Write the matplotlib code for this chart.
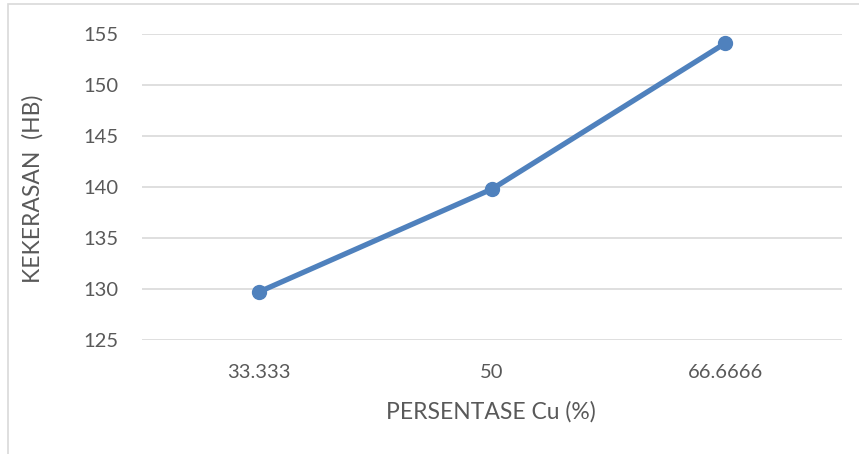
import matplotlib
matplotlib.use("Agg")
import matplotlib.pyplot as plt
from matplotlib.patches import Rectangle

categories = ["33.333", "50", "66.6666"]
hardness = [129.7, 139.8, 154.1]
y_ticks = [125, 130, 135, 140, 145, 150, 155]

LINE_BLUE = "#4F81BD"
GRID = "#D9D9D9"
TEXT = "#595959"

plt.rcParams["font.family"] = ["Lato", "DejaVu Sans"]

fig = plt.figure(figsize=(8.59, 4.54), dpi=100)
fig.patches.append(Rectangle((8 / 859, -0.1), 1.2, 1 - 4 / 454 + 0.1,
                             transform=fig.transFigure, fill=False,
                             edgecolor=GRID, linewidth=1.2))

ax = fig.add_axes([142 / 859, 1 - 340 / 454, 700 / 859, 306 / 454])
x = list(range(len(categories)))
ax.plot(x, hardness, color=LINE_BLUE, linewidth=3.8, marker="o",
        markersize=10, solid_capstyle="round", zorder=3)

ax.set_xlim(-0.5, len(categories) - 0.5)
ax.set_ylim(125, 155)
ax.set_yticks(y_ticks)
ax.set_xticks(x)
ax.set_xticklabels(categories)
ax.grid(axis="y", color=GRID, linewidth=1.2)
ax.set_axisbelow(True)
for s in ax.spines.values():
    s.set_visible(False)
ax.tick_params(axis="both", length=0, labelsize=14.5, labelcolor=TEXT)
ax.tick_params(axis="y", pad=17)
ax.tick_params(axis="x", pad=17)

fig.text(33 / 859, 1 - 189 / 454, "KEKERASAN  (HB)", rotation=90,
         ha="center", va="center", fontsize=16.5, color=TEXT)
fig.text(491 / 859, 1 - 412 / 454, "PERSENTASE Cu (%)",
         ha="center", va="center", fontsize=16.5, color=TEXT)

fig.savefig("out.png", dpi=100)
